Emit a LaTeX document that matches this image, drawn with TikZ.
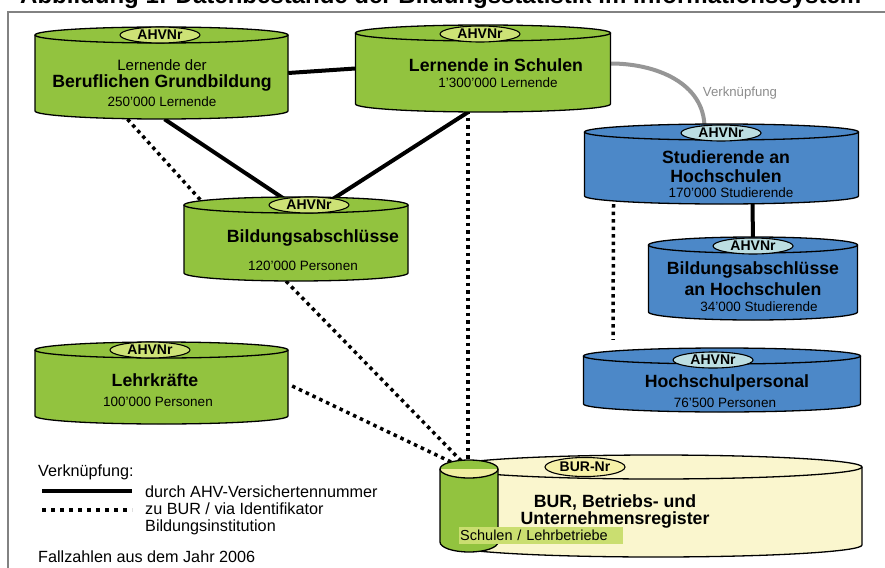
\documentclass[tikz,border=0pt]{standalone}
\usepackage{fontspec}
\setmainfont{Liberation Sans}
\usetikzlibrary{shapes.geometric,calc}
\definecolor{cylgreen}{RGB}{146,195,63}
\definecolor{ovgreen}{RGB}{205,226,118}
\definecolor{cylblue}{RGB}{76,136,200}
\definecolor{ovblue}{RGB}{188,222,226}
\definecolor{burfill}{RGB}{250,246,206}
\definecolor{burov}{RGB}{246,241,168}
\definecolor{topyellow}{RGB}{240,238,160}
\definecolor{lblgreen}{RGB}{202,222,112}
\definecolor{linkgray}{RGB}{150,150,150}
\definecolor{txtgray}{RGB}{140,140,140}
\definecolor{framegray}{RGB}{130,130,130}
\pgfdeclarelayer{bg}
\pgfsetlayers{bg,main}
\newcommand\dbcyl[7]{%
  \fill[#7] (#2-#5,#3) -- (#2-#5,#4) arc[start angle=180,end angle=0,x radius=#5,y radius=#6] -- (#2+#5,#3) -- cycle;
  \draw[cyledge] (#2-#5,#3) -- (#2-#5,#4) arc[start angle=180,end angle=0,x radius=#5,y radius=#6] -- (#2+#5,#3);
  \draw[cyledge,fill=#7] (#2,#3) ellipse[x radius=#5,y radius=#6];
  \node[cylbox,minimum width=2*#5,minimum height=#4-#3+2*#6] (#1) at (#2,{(#3+#4)/2}) {};
}
\begin{document}
\begin{tikzpicture}[x=1pt,y=-1pt,
  cyledge/.style={draw=black,line width=1.3pt},
  cylbox/.style={rectangle,draw=none,inner sep=0pt},
  small/.style={inner sep=0pt,font=\fontsize{13.5}{16}\selectfont},
  med/.style={inner sep=0pt,font=\fontsize{15}{17}\selectfont},
  ttl/.style={inner sep=0pt,font=\fontsize{17.7}{20}\selectfont\bfseries},
  legtxt/.style={inner sep=0pt,anchor=base west,font=\fontsize{16.2}{18}\selectfont},
  ahv/.style={ellipse,draw=black,line width=1.1pt,inner sep=0pt,minimum width=80pt,minimum height=16pt,font=\fontsize{14}{14}\selectfont\bfseries},
  link/.style={line width=4pt},
  dotlink/.style={line width=3.5pt,dash pattern=on 3.5pt off 4pt},
  legdots/.style={line width=4pt,dash pattern=on 4pt off 5pt},
  graylink/.style={line width=4pt,draw=linkgray}]
\useasboundingbox (0,0) rectangle (885,567);

% frame and cut title
\draw[framegray,line width=1.2pt] (8,600) -- (8,12) -- (900,12);
\node[anchor=base west,inner sep=0pt,font=\fontsize{24}{24}\selectfont\bfseries] (title) at (20,4) {Abbildung 1: Datenbestände der Bildungsstatistik im Informationssystem};

% cylinders
\dbcyl{berufl}{161.5}{35}{111}{126.5}{8}{cylgreen}
\dbcyl{schulen}{483}{33}{104}{127.5}{8}{cylgreen}
\dbcyl{studi}{721.5}{132}{196}{137}{8}{cylblue}
\dbcyl{bildhs}{753}{245}{312}{104.5}{8}{cylblue}
\dbcyl{hspers}{722}{356}{404}{138.5}{8}{cylblue}
\dbcyl{bildab}{296}{205}{273}{112}{8}{cylgreen}
\dbcyl{lehrk}{161.5}{350}{416}{126.5}{8}{cylgreen}
\dbcyl{bur}{656}{467}{545}{206}{12}{burfill}

% small cylinder with split top
\fill[cylgreen] (440,469) -- (440,542) arc[start angle=180,end angle=0,x radius=29,y radius=10] -- (498,469) -- cycle;
\draw[cyledge] (440,469) -- (440,542) arc[start angle=180,end angle=0,x radius=29,y radius=10] -- (498,469);
\begin{scope}
  \clip (469,469) ellipse[x radius=29,y radius=9];
  \fill[cylgreen] (438,458) rectangle (500,469);
  \fill[topyellow] (438,469) rectangle (500,480);
\end{scope}
\draw[cyledge] (469,469) ellipse[x radius=29,y radius=9];
\node[cylbox,minimum width=58pt,minimum height=92pt] (schulcyl) at (469,506) {};

% key ovals
\node[ahv,fill=ovgreen] (ov1) at (160,35) {AHVNr};
\node[ahv,fill=ovgreen] (ov2) at (480,34) {AHVNr};
\node[ahv,fill=ovblue] (ov3) at (721,133) {AHVNr};
\node[ahv,fill=ovblue] (ov4) at (753,246) {AHVNr};
\node[ahv,fill=ovblue] (ov5) at (713,360) {AHVNr};
\node[ahv,fill=ovgreen] (ov6) at (309,205) {AHVNr};
\node[ahv,fill=ovgreen] (ov7) at (150,350) {AHVNr};
\node[ahv,fill=burov,minimum height=19pt] (ov8) at (585,467) {BUR-Nr};

% texts in cylinders
\node[med] (t1a) at (162,65) {Lernende der};
\node[ttl] (t1b) at (162,83) {Beruflichen Grundbildung};
\node[small] (t1c) at (162,102) {250'000 Lernende};
\node[ttl] (t2a) at (496,65) {Lernende in Schulen};
\node[small] (t2b) at (498,83) {1'300'000 Lernende};
\node[ttl] (t3a) at (726,157) {Studierende an};
\node[ttl] (t3b) at (726,176) {Hochschulen};
\node[small] (t3c) at (731,193) {170'000 Studierende};
\node[ttl] (t4a) at (753,270) {Bildungsabschlüsse};
\node[ttl] (t4b) at (753,289) {an Hochschulen};
\node[small] (t4c) at (759,307) {34'000 Studierende};
\node[ttl] (t5a) at (727,383) {Hochschulpersonal};
\node[small] (t5b) at (725,403) {76'500 Personen};
\node[ttl] (t6a) at (313,238) {Bildungsabschlüsse};
\node[small] (t6b) at (303,266) {120'000 Personen};
\node[ttl] (t7a) at (155,380) {Lehrkräfte};
\node[small] (t7b) at (158,402) {100'000 Personen};
\node[ttl] (t8a) at (615,502) {BUR, Betriebs- und};
\node[ttl] (t8b) at (615,520) {Unternehmensregister};
\node[anchor=west,fill=lblgreen,inner xsep=1pt,inner ysep=0pt,minimum height=17pt,text width=162pt,align=left,font=\fontsize{14.5}{16}\selectfont] (schullbl) at (459,535.5) {Schulen / Lehrbetriebe};

\node[inner sep=0pt,text=txtgray,font=\fontsize{13.2}{15}\selectfont] (verkn) at (740,93) {Verknüpfung};

% connectors (behind)
\begin{pgfonlayer}{bg}
\draw[link] (berufl.east) -- (schulen.west);
\draw[link] ($(berufl.south)+(3,0)$) -- ($(bildab.north)+(-9,4)$);
\draw[link] ($(schulen.south)+(-15,0)$) -- ($(bildab.north)+(34,4)$);
\draw[dotlink] ($(berufl.south)+(-34,0)$) -- ($(bildab.north)+(-93,6)$);
\draw[dotlink] ($(schulen.south)+(-15,-2)$) -- ($(schulcyl.north)+(-1,6)$);
\draw[dotlink] ($(bildab.south)+(-10,0)$) -- ($(schulcyl.north)+(-5,4)$);
\draw[dotlink] ($(lehrk.east)+(4,3)$) -- ($(schulcyl.north)+(-10,6)$);
\draw[dotlink] ($(studi.south)+(-108,0)$) -- ($(hspers.north)+(-109,-8)$);
\draw[link] ($(studi.south)+(31,0)$) -- ($(bildhs.north)+(0,4)$);
\draw[graylink] ($(schulen.east)+(0,-5)$) .. controls +(45,0) and +(0,-45) .. ($(studi.north)+(-17,4)$);
\end{pgfonlayer}

% legend
\node[legtxt] (lg0) at (38,476) {Verknüpfung:};
\coordinate (ls1) at (42,491);
\coordinate (ls2) at (132,491);
\draw[link] (ls1) -- (ls2);
\coordinate (ld1) at (42,510);
\coordinate (ld2) at (132,510);
\draw[legdots] (ld1) -- (ld2);
\node[legtxt] (lg1) at (145,497) {durch AHV-Versichertennummer};
\node[legtxt] (lg2) at (145,514) {zu BUR / via Identifikator};
\node[legtxt] (lg3) at (145,531) {Bildungsinstitution};
\node[legtxt] (lg4) at (38,562) {Fallzahlen aus dem Jahr 2006};
\end{tikzpicture}
\end{document}
